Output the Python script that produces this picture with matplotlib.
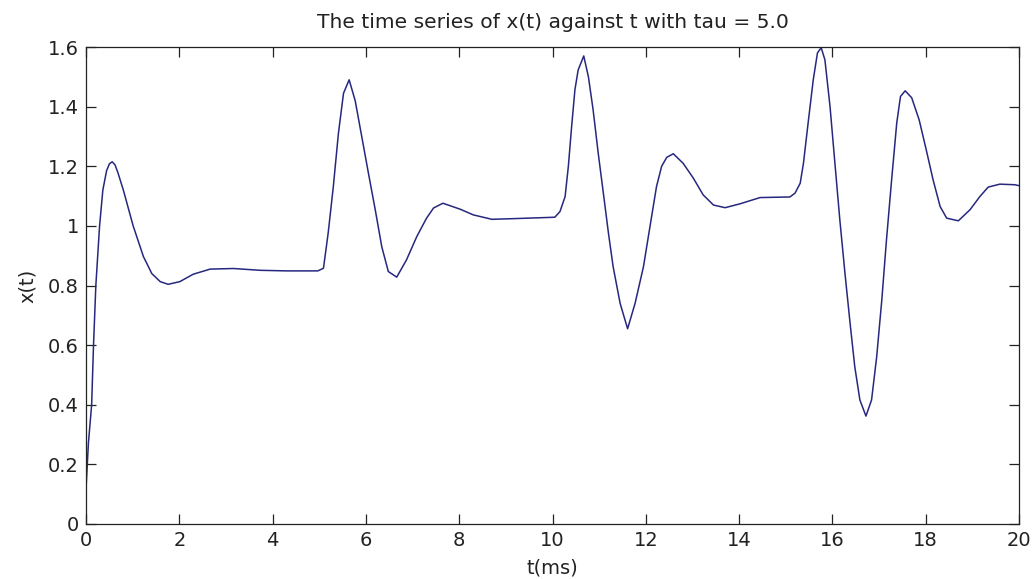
import matplotlib.pyplot as plt

# time (ms) and x(t)
t = [0.00, 0.05, 0.12, 0.16, 0.21, 0.29, 0.36, 0.44, 0.50, 0.56, 0.62, 0.68,
     0.80, 1.01, 1.23, 1.41, 1.59, 1.76, 2.01, 2.30, 2.66, 3.16,
     3.73, 4.30, 4.97, 5.09, 5.19, 5.30, 5.41, 5.52, 5.64, 5.77,
     5.91, 6.05, 6.20, 6.34, 6.48, 6.66, 6.87, 7.09, 7.30, 7.45,
     7.65, 8.02, 8.30, 8.70, 9.30, 10.05, 10.16, 10.27, 10.34, 10.41,
     10.48, 10.55, 10.67, 10.77, 10.87, 10.98, 11.09, 11.20, 11.30, 11.45,
     11.61, 11.77, 11.95, 12.09, 12.23, 12.34, 12.45, 12.59, 12.80, 13.02,
     13.23, 13.45, 13.70, 14.02, 14.45, 15.09, 15.20, 15.31, 15.38, 15.48,
     15.59, 15.68, 15.76, 15.84, 15.95, 16.06, 16.16, 16.27, 16.38, 16.48,
     16.59, 16.72, 16.84, 16.95, 17.06, 17.16, 17.27, 17.38, 17.46, 17.56,
     17.70, 17.86, 18.02, 18.16, 18.31, 18.45, 18.70, 18.95, 19.16, 19.34,
     19.59, 19.91, 20.00]
x = [0.120, 0.270, 0.400, 0.600, 0.800, 1.000, 1.120, 1.185, 1.208, 1.215, 1.205, 1.180,
     1.120, 1.000, 0.897, 0.840, 0.813, 0.804, 0.813, 0.838, 0.855, 0.857,
     0.851, 0.849, 0.849, 0.858, 0.975, 1.130, 1.310, 1.445, 1.490, 1.420,
     1.300, 1.180, 1.054, 0.930, 0.847, 0.828, 0.886, 0.964, 1.026, 1.060,
     1.076, 1.056, 1.037, 1.022, 1.025, 1.029, 1.048, 1.098, 1.200, 1.333,
     1.456, 1.523, 1.570, 1.500, 1.390, 1.244, 1.110, 0.975, 0.863, 0.740,
     0.655, 0.740, 0.863, 0.998, 1.132, 1.200, 1.230, 1.242, 1.210, 1.160,
     1.104, 1.070, 1.061, 1.074, 1.095, 1.097, 1.110, 1.143, 1.210, 1.345,
     1.490, 1.580, 1.598, 1.557, 1.400, 1.200, 1.020, 0.841, 0.673, 0.528,
     0.416, 0.362, 0.416, 0.561, 0.752, 0.953, 1.154, 1.345, 1.434, 1.453,
     1.430, 1.356, 1.250, 1.154, 1.065, 1.026, 1.017, 1.054, 1.098, 1.130,
     1.140, 1.138, 1.135]

x_ticks = [0, 2, 4, 6, 8, 10, 12, 14, 16, 18, 20]
x_tick_labels = ['0', '2', '4', '6', '8', '10', '12', '14', '16', '18', '20']
y_ticks = [0, 0.2, 0.4, 0.6, 0.8, 1.0, 1.2, 1.4, 1.6]
y_tick_labels = ['0', '0.2', '0.4', '0.6', '0.8', '1', '1.2', '1.4', '1.6']

plt.rcParams['font.family'] = ['DejaVu Sans']

fig = plt.figure(figsize=(10.33, 5.79), dpi=100)
ax = fig.add_axes([0.0833, 0.095, 0.9031, 0.8238])

ax.plot(t, x, color='#27277f', linewidth=1.1)

ax.set_xlim(0, 20)
ax.set_ylim(0, 1.6)
ax.set_xticks(x_ticks)
ax.set_xticklabels(x_tick_labels)
ax.set_yticks(y_ticks)
ax.set_yticklabels(y_tick_labels)

ax.tick_params(direction='in', length=7, width=0.9, colors='#222222',
               labelsize=14, labelcolor='#222222', pad=5,
               top=True, right=True)
for s in ax.spines.values():
    s.set_linewidth(0.9)
    s.set_color('#222222')

ax.set_title('The time series of x(t) against t with tau = 5.0',
             fontsize=14.6, color='#222222', pad=14)
ax.set_xlabel('t(ms)', fontsize=14, color='#222222', labelpad=6)
ax.set_ylabel('x(t)', fontsize=14, color='#222222', labelpad=8)

fig.savefig('out.png', dpi=100)
plt.close(fig)
